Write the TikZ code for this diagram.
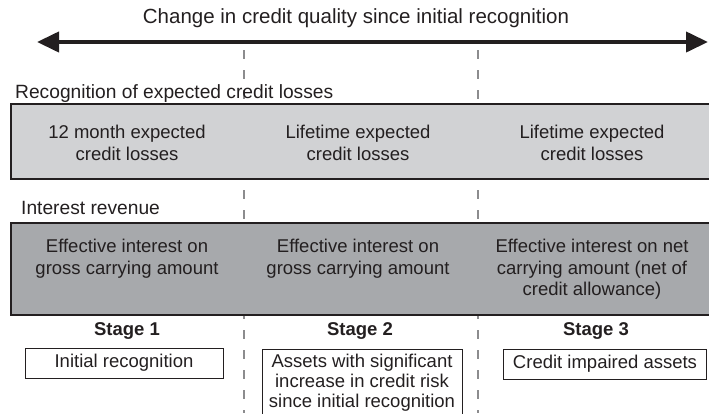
\documentclass[tikz,border=0pt]{standalone}
\usepackage{fontspec}
\setmainfont{Liberation Sans}
\usetikzlibrary{arrows.meta,positioning}
\definecolor{inkdark}{HTML}{231F20}
\definecolor{lossgray}{HTML}{D1D2D4}
\definecolor{revgray}{HTML}{A7A9AC}
\definecolor{dashgray}{HTML}{8C8C8E}
\begin{document}
\begin{tikzpicture}[x=1pt,y=-1pt,
    every node/.style={text=inkdark,font=\fontsize{18.5}{21.5}\selectfont},
    band/.style={draw=inkdark,line width=2.4pt},
    cell/.style={align=center,anchor=north,inner sep=0pt},
    bandlabel/.style={anchor=base west,inner sep=0pt,font=\fontsize{19.2}{22}\selectfont},
    stagename/.style={anchor=base,inner sep=0pt,font=\fontsize{18.5}{21.5}\selectfont\bfseries},
    stagebox/.style={draw=inkdark,line width=0.9pt,align=center,inner xsep=0pt,inner ysep=5pt,
        font=\fontsize{18.5}{20}\selectfont},
    divider/.style={dashgray,line width=1.6pt,dash pattern=on 9pt off 11pt}]
    \useasboundingbox (0,0) rectangle (709,413);

    % stage dividers, behind everything
    \coordinate (div1top) at (244,50);  \coordinate (div1bot) at (244,413);
    \coordinate (div2top) at (478,50);  \coordinate (div2bot) at (478,413);
    \draw [divider] (div1top) -- (div1bot);
    \draw [divider] (div2top) -- (div2bot);

    % credit quality axis
    \node [font=\fontsize{20.5}{24}\selectfont] (quality) at (356,18) {Change in credit quality since initial recognition};
    \coordinate (better) at (37,42);
    \coordinate (worse) at (708,42);
    \draw [inkdark,line width=4pt,{Triangle[length=22pt,width=20pt]}-{Triangle[length=22pt,width=20pt]}] (better) -- (worse);

    % recognition of expected credit losses
    \node [bandlabel] (losslabel) at (15,98) {Recognition of expected credit losses};
    \draw [band,fill=lossgray] (720,104) -- (11,104) -- (11,179) -- (720,179);
    \node [cell] (loss1) at (127,125) {12 month expected\\credit losses};
    \node [cell] (loss2) at (358,125) {Lifetime expected\\credit losses};
    \node [cell] (loss3) at (592,125) {Lifetime expected\\credit losses};

    % interest revenue
    \node [bandlabel] (revlabel) at (21,214) {Interest revenue};
    \draw [band,fill=revgray] (720,223) -- (11,223) -- (11,315) -- (720,315);
    \node [cell] (rev1) at (127,239) {Effective interest on\\gross carrying amount};
    \node [cell] (rev2) at (358,239) {Effective interest on\\gross carrying amount};
    \node [cell] (rev3) at (592,239) {Effective interest on net\\carrying amount (net of\\credit allowance)};

    % stages
    \node [stagename] (stage1) at (127,335) {Stage 1};
    \node [stagename] (stage2) at (360,335) {Stage 2};
    \node [stagename] (stage3) at (596,335) {Stage 3};
    \node [stagebox,minimum width=198pt,minimum height=30pt] (initial) at (124,363) {Initial recognition};
    \node [stagebox,minimum width=200pt,anchor=north] (increase) at (362,349)
        {Assets with significant\\increase in credit risk\\since initial recognition};
    \node [stagebox,minimum width=203pt,minimum height=30pt] (impaired) at (605,364) {Credit impaired assets};
\end{tikzpicture}
\end{document}
